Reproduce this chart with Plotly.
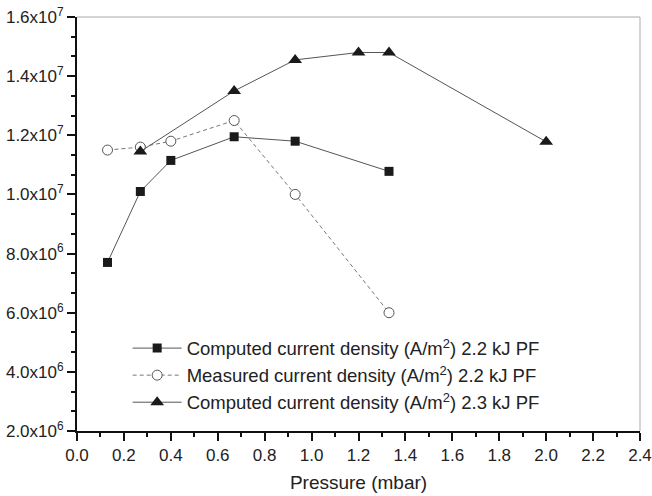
import plotly.graph_objects as go

# Data
pressure_computed_22 = [0.13, 0.27, 0.40, 0.67, 0.93, 1.33]
current_computed_22 = [7.7e6, 1.01e7, 1.115e7, 1.195e7, 1.18e7, 1.078e7]

pressure_measured_22 = [0.13, 0.27, 0.40, 0.67, 0.93, 1.33]
current_measured_22 = [1.15e7, 1.16e7, 1.18e7, 1.25e7, 1.0e7, 6.0e6]

pressure_computed_23 = [0.27, 0.67, 0.93, 1.20, 1.33, 2.0]
current_computed_23 = [1.145e7, 1.35e7, 1.455e7, 1.48e7, 1.48e7, 1.178e7]

y_tick_vals = [2e6, 4e6, 6e6, 8e6, 1e7, 1.2e7, 1.4e7, 1.6e7]
y_tick_text = ["2.0x10<sup>6</sup>", "4.0x10<sup>6</sup>", "6.0x10<sup>6</sup>",
               "8.0x10<sup>6</sup>", "1.0x10<sup>7</sup>", "1.2x10<sup>7</sup>",
               "1.4x10<sup>7</sup>", "1.6x10<sup>7</sup>"]

names = ["Computed current density (A/m<sup>2</sup>) 2.2 kJ PF",
         "Measured current density (A/m<sup>2</sup>) 2.2 kJ PF",
         "Computed current density (A/m<sup>2</sup>) 2.3 kJ PF"]

FONT = "Liberation Sans, Arial, sans-serif"
fig = go.Figure()

fig.add_trace(go.Scatter(
    x=pressure_computed_22, y=current_computed_22, name=names[0],
    mode="lines+markers",
    line=dict(color="#555555", width=1),
    marker=dict(symbol="square", size=9, color="#1a1a1a", line=dict(width=0)),
))
fig.add_trace(go.Scatter(
    x=pressure_measured_22, y=current_measured_22, name=names[1],
    mode="lines+markers",
    line=dict(color="#777777", width=1, dash="4px,3px"),
    marker=dict(symbol="circle", size=10, color="white", line=dict(width=1, color="#555555")),
))
fig.add_trace(go.Scatter(
    x=pressure_computed_23, y=current_computed_23, name=names[2],
    mode="lines+markers",
    line=dict(color="#555555", width=1),
    marker=dict(symbol="triangle-up", size=12, color="#1a1a1a", line=dict(width=0)),
))

fig.update_layout(
    width=652, height=496,
    margin=dict(l=77, r=12, t=17, b=65),
    paper_bgcolor="white", plot_bgcolor="white",
    font=dict(family=FONT, size=17, color="#222222"),
    showlegend=True,
    legend=dict(x=0.09, y=0.245, xanchor="left", yanchor="top",
                bgcolor="rgba(0,0,0,0)", borderwidth=0,
                font=dict(size=18.5, family=FONT, color="#222222"),
                itemwidth=49, tracegroupgap=0),
    xaxis=dict(
        range=[0, 2.4], tickmode="linear", tick0=0, dtick=0.2, tickformat=".1f",
        ticks="outside", ticklen=8, tickwidth=1.5, tickcolor="#111111",
        showline=True, linecolor="#111111", linewidth=2,
        showgrid=False, zeroline=False, automargin=False,
        minor=dict(dtick=0.1, tick0=0, ticks="outside", ticklen=4, tickwidth=1.5, tickcolor="#111111"),
        title=dict(text="Pressure (mbar)", font=dict(size=19, family=FONT), standoff=11),
        tickfont=dict(size=17),
    ),
    yaxis=dict(
        range=[2e6, 1.6e7], tickmode="array", tickvals=y_tick_vals, ticktext=y_tick_text,
        ticks="outside", ticklen=8, tickwidth=1.5, tickcolor="#111111",
        showline=True, linecolor="#111111", linewidth=2,
        showgrid=False, zeroline=False, automargin=False,
        minor=dict(dtick=2e6 / 3, tick0=2e6, ticks="outside", ticklen=4, tickwidth=1.5, tickcolor="#111111"),
        tickfont=dict(size=17),
    ),
    shapes=[
        dict(type="line", xref="paper", yref="paper", x0=0, x1=1, y0=1, y1=1,
             line=dict(color="#aaaaaa", width=1)),
        dict(type="line", xref="paper", yref="paper", x0=1, x1=1, y0=0, y1=1,
             line=dict(color="#aaaaaa", width=1)),
    ],
)

fig.write_html("out.html")
